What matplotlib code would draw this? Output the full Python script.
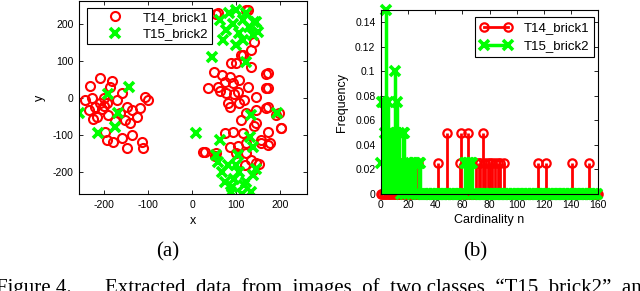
import numpy as np
import matplotlib
matplotlib.use("Agg")
import matplotlib.pyplot as plt

plt.rcParams['font.family'] = ['Liberation Sans', 'DejaVu Sans']
plt.rcParams['axes.unicode_minus'] = False

RED = '#ff0000'
GREEN = '#00ff00'

# ---- (a) scatter of extracted points ----
t14_x = [-210, -233, -183, -187, -244, -229, -236, -221, -210, -202, -195, -218, -191,
         -202, -172, -160, -149, -138, -126, -119, -153, -141, -164, -198, -195, -180,
         -161, -138, -149, -115, -111, -108, -100, -176, -225, -205,
         59, 127, 101, 89, 134, 115, 51, 67, 86, 36, 59, 74, 93, 108, 172, 169, 78, 104,
         127, 146, 86, 108, 124, 146, 172, 191, 202, 172, 172, 93, 115, 146, 157, 29, 86,
         134, 153, 139, 74, 55, 101, 124, 55, 123, 142, 135, 112, 25, 52, 146, 123, 104,
         158, 177, 203, 197, 169, 173, 169, 96, 118, 81, 64, 111, 140, 120]
t14_y = [55, 32, 46, 29, -5, -1, -32, -23, -14, -21, -14, -50, -46, -1, -5, 13, -23,
         -32, -50, -28, -59, -68, -41, -90, -112, -117, -108, -99, -135, -117, -135, 4,
         -4, -63, -55, -30,
         228, 236, 93, 93, 84, 115, 71, 62, 57, 26, 31, 44, 40, 49, 67, 26, 13, 17, 31, 4,
         -23, -14, -41, -32, -23, -46, -81, -90, -126, -90, -95, -68, -113, -144, -131,
         -167, -176, -194, -95, -149, -149, -122, 227, 236, 151, 129, 115, -144, -157,
         -175, -148, -130, -121, -121, -81, -41, -28, 26, 66, 10, -5, -12, 20, -60, -75,
         -180]

t15_x = [-193, -145, -258, -168, -176, -214, 8,
         84, 101, 93, 115, 130, 146, 78, 108, 139, 71, 101, 115, 63, 124, 150, 142, 46,
         124, 134, 194, 63, 131, 55, 104, 139,
         67, 82, 96, 108, 124, 139, 89, 113, 134, 74, 101, 59, 146, 92, 118]
t15_y = [10, 29, -39, -41, -77, -95, -93,
         228, 236, 200, 210, 192, 205, 183, 174, 169, 156, 142, 156, 210, 228, 178, 204,
         110, 97, -46, -41, -113, -104, -153, -153, -131,
         -199, -181, -217, -199, -226, -208, -253, -257, -253, -226, -181, -172, -190,
         -240, -235]

# ---- (b) cardinality distributions ----
n_max = 160
t14_n = [15, 27, 42, 49, 58, 59, 64, 70, 72, 73, 75, 77, 79, 80, 82, 84, 86, 88, 91,
         116, 122, 141, 153]
t14_f = [0.025, 0.025, 0.025, 0.05, 0.025, 0.05, 0.05, 0.025, 0.025, 0.025, 0.05,
         0.025, 0.025, 0.025, 0.025, 0.025, 0.025, 0.025, 0.025, 0.025, 0.025, 0.025,
         0.025]
t15_n = [0, 1, 2, 3, 4, 5, 6, 7, 8, 9, 10, 11, 12, 13, 14, 16, 17, 19, 20, 21, 22, 24,
         25, 28, 29, 62, 63, 64, 65, 66, 67]
t15_f = [0.025, 0.075, 0.075, 0.05, 0.15, 0.075, 0.05, 0.05, 0.05, 0.05, 0.1, 0.05,
         0.075, 0.05, 0.025, 0.05, 0.05, 0.025, 0.025, 0.025, 0.025, 0.025, 0.025, 0.025,
         0.025, 0.025, 0.025, 0.025, 0.025, 0.025, 0.025]

red_n = np.arange(0, n_max + 1)
red_f = np.zeros(len(red_n))
red_f[t14_n] = t14_f
green_n = np.arange(0, n_max)
green_f = np.zeros(len(green_n))
green_f[t15_n] = t15_f

fig = plt.figure(figsize=(6.4, 2.91), dpi=100)

ax1 = fig.add_axes([79 / 640, 97 / 291, 228 / 640, 193 / 291])
ax1.plot(t14_x, t14_y, 'o', ls='none', mfc='none', mec=RED, mew=1.5, ms=6.5,
         label='T14_brick1')
ax1.plot(t15_x, t15_y, 'x', ls='none', mec=GREEN, mew=2.6, ms=7, label='T15_brick2')
ax1.set_xlim(-258, 262)
ax1.set_ylim(-258, 261)
ax1.set_xticks([-200, -100, 0, 100, 200])
ax1.set_yticks([-200, -100, 0, 100, 200])
ax1.set_xlabel('x', fontsize=9, labelpad=4)
ax1.set_ylabel('y', fontsize=9, labelpad=5)
leg1 = ax1.legend(loc='upper left', bbox_to_anchor=(0.035, 0.965), fontsize=9.5,
                  fancybox=False, edgecolor='black', framealpha=1, borderpad=0.3,
                  handletextpad=0.3, labelspacing=0.3, handlelength=3.6,
                  borderaxespad=0)
leg1.get_frame().set_linewidth(0.8)

ax2 = fig.add_axes([381 / 640, 97 / 291, 217 / 640, 184 / 291])
ax2.vlines(red_n, 0, red_f, colors=RED, lw=2)
ax2.plot(red_n, red_f, 'o', ls='none', mfc='none', mec=RED, mew=1.6, ms=6,
         clip_on=False)
ax2.vlines(green_n, 0, green_f, colors=GREEN, lw=2.5)
ax2.plot(green_n, green_f, 'x', ls='none', mec=GREEN, mew=2.6, ms=6.5, clip_on=False)
ax2.set_xlim(0, 160)
ax2.set_ylim(0, 0.15)
ax2.set_xticks(np.arange(0, 161, 20))
ax2.set_yticks(np.arange(0, 0.141, 0.02))
ax2.set_yticklabels(['0', '0.02', '0.04', '0.06', '0.08', '0.1', '0.12', '0.14'])
ax2.set_xlabel('Cardinality n', fontsize=9, labelpad=3)
ax2.set_ylabel('Frequency', fontsize=9, labelpad=5)

h_red, = ax2.plot([], [], '-o', color=RED, lw=2, mfc='none', mew=1.6, ms=6,
                  markevery=[1])
h_green, = ax2.plot([], [], '-x', color=GREEN, lw=2.5, mew=2.6, ms=6.5, markevery=[1])
leg2 = ax2.legend([h_red, h_green], ['T14_brick1', 'T15_brick2'], loc='upper right',
                  bbox_to_anchor=(0.98, 0.96), fontsize=9.5, numpoints=2,
                  fancybox=False, edgecolor='black', framealpha=1, borderpad=0.35,
                  handlelength=2.4, handletextpad=0.9, labelspacing=0.45,
                  borderaxespad=0)
leg2.get_frame().set_linewidth(0.8)

for ax in (ax1, ax2):
    ax.tick_params(direction='in', top=True, right=True, length=3, width=0.6,
                   labelsize=7.5, pad=4)
    for sp in ax.spines.values():
        sp.set_linewidth(0.8)

serif = ['Liberation Serif', 'DejaVu Serif']
fig.text(168 / 640, 1 - 252 / 291, '(a)', family=serif, fontsize=15, ha='center',
         va='center')
fig.text(475 / 640, 1 - 252 / 291, '(b)', family=serif, fontsize=15, ha='center',
         va='center')
fig.text(-4 / 640, -2 / 291, 'Figure 4.', family=serif, fontsize=15, ha='left',
         va='baseline')
fig.text(105 / 640, -2 / 291,
         'Extracted  data  from  images  of  two classes  \u201cT15_brick2\u201d  and',
         family=serif, fontsize=15, ha='left', va='baseline')

fig.savefig('out.png', dpi=100)
